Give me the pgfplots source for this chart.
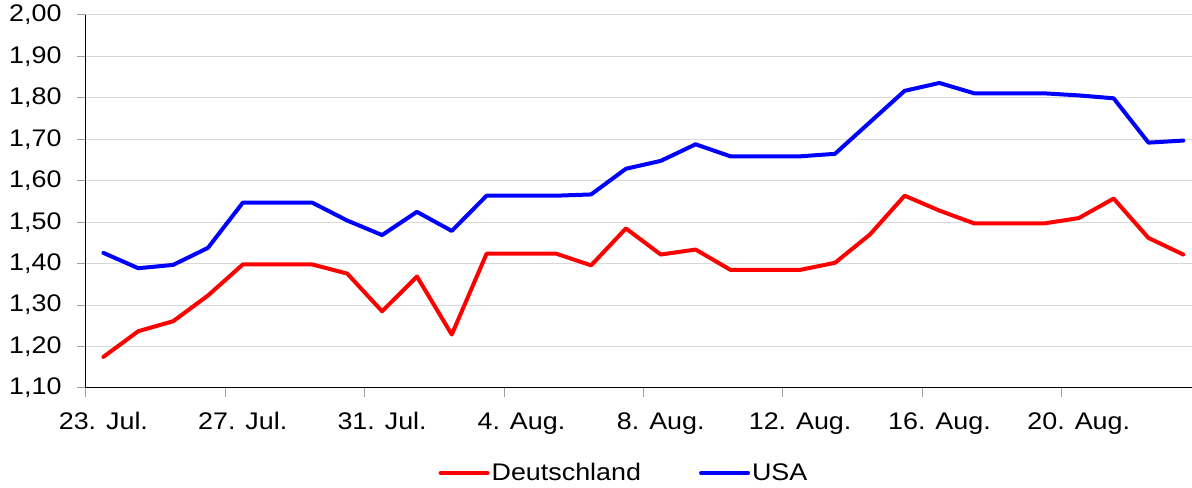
\documentclass[border=0pt]{standalone}
\usepackage{pgfplots}
\pgfplotsset{compat=1.18}
\usepackage{fontspec}
\setmainfont{Liberation Sans}[FakeStretch=1.12]
\definecolor{gridc}{RGB}{217,217,217}
\definecolor{tickc}{RGB}{160,160,160}
\begin{document}
\begin{tikzpicture}
\begin{axis}[
  name=ax,
  scale only axis,
  width=1106bp, height=373bp,
  xmin=-0.5, xmax=31.25,
  ymin=1.1, ymax=2.0,
  axis x line=bottom, axis y line=left,
  axis line style={-, black, line width=1bp},
  xtick={0,4,...,28},
  xticklabels={23. Jul.,27. Jul.,31. Jul.,4. Aug.,8. Aug.,12. Aug.,16. Aug.,20. Aug.},
  minor xtick={-0.5,3.5,...,27.5},
  major x tick style={draw=none},
  minor x tick style={tickc, line width=1bp},
  minor tick length=9bp,
  ytick={1.1,1.2,...,2.01},
  yticklabels={{1,10},{1,20},{1,30},{1,40},{1,50},{1,60},{1,70},{1,80},{1,90},{2,00}},
  major y tick style={tickc, line width=1bp},
  major tick length=9bp,
  tick align=outside,
  ymajorgrids,
  grid style={gridc, line width=1bp},
  ticklabel style={font=\fontsize{24bp}{28bp}\selectfont},
  xticklabel style={yshift=-12bp},
  yticklabel style={xshift=-12bp},
  clip=false,
  legend columns=2,
  legend style={at={(rel axis cs:0.4864,-0.2279)}, anchor=center, draw=none, fill=none,
    font=\fontsize{24bp}{28bp}\selectfont,
    nodes={inner xsep=2bp, inner ysep=0bp},
    /tikz/every odd column/.append style={column sep=0bp},
    /tikz/every even column/.append style={column sep=56bp}},
  legend image code/.code={\draw[#1] (0bp,0bp) -- (47bp,0bp);},
  every axis plot/.append style={line width=4bp, line join=round, line cap=round},
]
\addplot[red] coordinates {
(0,1.175) (1,1.237) (2,1.261) (3,1.323) (4,1.398) (5,1.398) (6,1.398) (7,1.376)
(8,1.285) (9,1.369) (10,1.229) (11,1.424) (12,1.424) (13,1.424) (14,1.396) (15,1.485)
(16,1.422) (17,1.434) (18,1.385) (19,1.385) (20,1.385) (21,1.402) (22,1.470) (23,1.564)
(24,1.528) (25,1.497) (26,1.497) (27,1.497) (28,1.510) (29,1.557) (30,1.462) (31,1.422)
};
\addlegendentry{Deutschland}
\addplot[blue] coordinates {
(0,1.426) (1,1.389) (2,1.397) (3,1.438) (4,1.547) (5,1.547) (6,1.547) (7,1.504)
(8,1.469) (9,1.525) (10,1.479) (11,1.564) (12,1.564) (13,1.564) (14,1.567) (15,1.629)
(16,1.648) (17,1.688) (18,1.659) (19,1.659) (20,1.659) (21,1.665) (22,1.741) (23,1.817)
(24,1.836) (25,1.811) (26,1.811) (27,1.811) (28,1.806) (29,1.799) (30,1.692) (31,1.697)
};
\addlegendentry{USA}
\end{axis}
\pgfresetboundingbox
\path[use as bounding box] ([shift={(-86bp,-100bp)}]ax.south west) rectangle ([shift={(0bp,15bp)}]ax.north east);
\end{tikzpicture}
\end{document}
